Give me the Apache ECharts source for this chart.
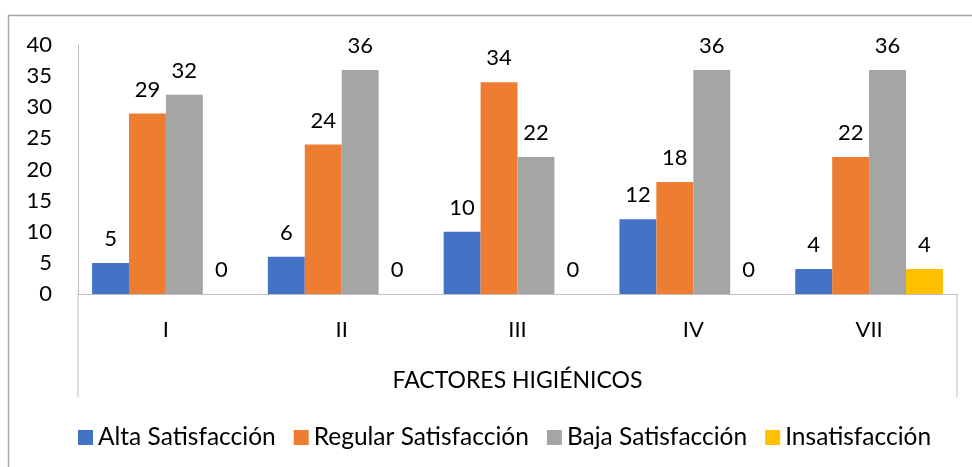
<!DOCTYPE html>
<html>
<head>
<meta charset="utf-8">
<script src="https://cdn.jsdelivr.net/npm/echarts@6/dist/echarts.min.js"></script>
<style>
  html, body { margin: 0; padding: 0; background: #fff; }
  #chart { width: 972px; height: 467px; }
</style>
</head>
<body>
<div id="chart"></div>
<script>
var categories = ['I', 'II', 'III', 'IV', 'VII'];
var alta = [5, 6, 10, 12, 4];
var regular = [29, 24, 34, 18, 22];
var baja = [32, 36, 22, 36, 36];
var insat = [0, 0, 0, 0, 4];
var seriesNames = ['Alta Satisfacción', 'Regular Satisfacción', 'Baja Satisfacción', 'Insatisfacción'];
var colors = ['#4472C4', '#ED7D31', '#A5A5A5', '#FFC000'];

var font = 'Lato, "Open Sans", sans-serif';
var lineColor = '#BFBFBF';

var chart = echarts.init(document.getElementById('chart'));

function bar(name, data, color) {
    return {
        name: name,
        type: 'bar',
        data: data,
        barGap: '0%',
        barCategoryGap: '16%',
        itemStyle: { color: color },
        label: {
            show: true,
            position: 'top',
            distance: 13,
            color: '#000',
            fontFamily: font,
            fontSize: 22
        }
    };
}

var left = 78, right = 957, axisY = 294, boxBottom = 397;

chart.setOption({
    animation: false,
    grid: { left: left, right: 972 - right, top: 45, bottom: 467 - axisY },
    legend: {
        left: 73,
        top: 420,
        itemWidth: 15,
        itemHeight: 15,
        itemGap: 18,
        icon: 'rect',
        textStyle: { color: '#000', fontFamily: font, fontSize: 24.5 },
        data: seriesNames
    },
    xAxis: {
        type: 'category',
        data: categories,
        name: 'FACTORES HIGIÉNICOS',
        nameLocation: 'middle',
        nameGap: 75,
        nameTextStyle: { color: '#000', fontFamily: font, fontSize: 23 },
        axisLine: { lineStyle: { color: lineColor, width: 1 } },
        axisTick: { show: false },
        axisLabel: { color: '#000', fontFamily: font, fontSize: 22, margin: 25 }
    },
    yAxis: {
        type: 'value',
        min: 0,
        max: 40,
        interval: 5,
        splitLine: { show: false },
        axisLine: { show: true, lineStyle: { color: lineColor, width: 1 } },
        axisTick: { show: false },
        axisLabel: { color: '#000', fontFamily: font, fontSize: 22, margin: 26 }
    },
    graphic: [
        { type: 'rect', shape: { x: 8.5, y: 15.5, width: 1000, height: 500 },
          style: { fill: 'none', stroke: '#A6A6A6', lineWidth: 1.5 }, silent: true },
        { type: 'line', shape: { x1: left, y1: axisY, x2: left, y2: boxBottom },
          style: { stroke: lineColor, lineWidth: 1 }, silent: true },
        { type: 'line', shape: { x1: right, y1: axisY, x2: right, y2: boxBottom },
          style: { stroke: lineColor, lineWidth: 1 }, silent: true }
    ],
    series: [
        bar(seriesNames[0], alta, colors[0]),
        bar(seriesNames[1], regular, colors[1]),
        bar(seriesNames[2], baja, colors[2]),
        bar(seriesNames[3], insat, colors[3])
    ]
});
</script>
</body>
</html>
